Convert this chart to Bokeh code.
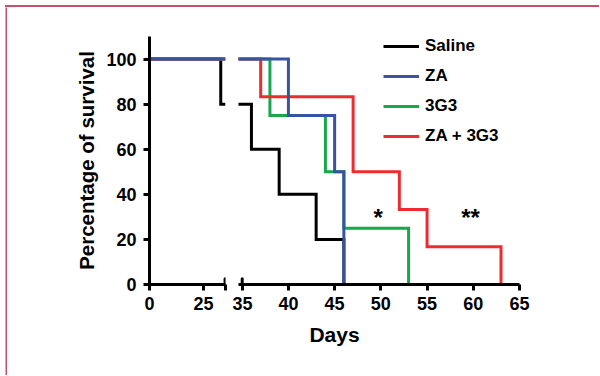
from math import pi
from bokeh.plotting import figure
from bokeh.layouts import row, column
from bokeh.models import (Legend, LegendItem, FixedTicker, Range1d,
                          ColumnDataSource, Div)
from bokeh.core.properties import value
from bokeh.embed import file_html
from bokeh.resources import INLINE

# ---- data ----
groups = ["Saline", "ZA", "3G3", "ZA + 3G3"]
saline_days = [0, 33, 36, 39, 43, 46]
saline_surv = [100, 80, 60, 40, 20, 0]
za_days = [0, 40, 45, 46]
za_surv = [100, 75, 50, 0]
g3_days = [0, 38, 44, 46, 53]
g3_surv = [100, 75, 50, 25, 0]
combo_days = [0, 37, 47, 52, 55, 63]
combo_surv = [100, 83.3, 50, 33.3, 16.7, 0]
colors = ["#000000", "#3953a4", "#16a84b", "#ee2b31"]

left_ticks = [0, 25]
right_ticks = [35, 40, 45, 50, 55, 60, 65]
y_ticks = [0, 20, 40, 60, 80, 100]
break_at = 35
left_end = 35.2
right_start = 34.6
x_end = 65
y_max = 110
star_days = [49.7, 59.7]
star_surv = [29.5, 29.5]
star_text = ["*", "**"]
x_title = ["Days"]
y_title = "Percentage of survival"

FONT = "Liberation Sans"
BORDER = "#c8506b"
series = [
    (saline_days, saline_surv, colors[0]),
    (za_days, za_surv, colors[1]),
    (g3_days, g3_surv, colors[2]),
    (combo_days, combo_surv, colors[3]),
]
draw_order = [0, 2, 3, 1]

FH = 248
TOP = 29
BOT = 34
DAYS_H = 57
LEFT_BORDER = 142
LFW = 76
RFW = 281


def style_axis(ax):
    ax.axis_line_width = 3
    ax.major_tick_line_width = 3
    ax.major_tick_out = 6
    ax.major_tick_in = 0
    ax.minor_tick_line_color = None
    ax.major_label_text_font = FONT
    ax.major_label_text_font_style = "bold"
    ax.major_label_text_font_size = "18px"
    ax.major_label_text_color = "black"
    ax.axis_line_color = "black"
    ax.major_tick_line_color = "black"


def left_part(d, s):
    """Portion of a step curve shown on the left (pre-break) segment."""
    dd = [x for x in d if x < break_at]
    ss = [y for x, y in zip(d, s) if x < break_at]
    return dd + [left_end], ss + [ss[-1]]


# ---- frame border (pink left/top lines) ----
top_bar = Div(text="", width=594, height=2, margin=(5, 0, 0, 5),
              styles={"background-color": BORDER})
left_bar = figure(frame_width=2, frame_height=TOP + FH + BOT + DAYS_H,
                  output_backend="svg", toolbar_location=None,
                  x_axis_type=None, y_axis_type=None,
                  min_border_left=5, min_border_top=0, min_border_right=0,
                  min_border_bottom=0, background_fill_color=BORDER)
left_bar.outline_line_color = None
left_bar.grid.visible = False

# ---- left segment ----
left = figure(frame_width=LFW, frame_height=FH, output_backend="svg",
              toolbar_location=None, x_range=Range1d(0, left_end),
              y_range=Range1d(0, y_max), min_border_left=LEFT_BORDER,
              min_border_right=7, min_border_top=TOP, min_border_bottom=BOT)
left.outline_line_color = None
left.grid.visible = False
style_axis(left.xaxis[0])
style_axis(left.yaxis[0])
left.xaxis[0].ticker = FixedTicker(ticks=left_ticks + [break_at])
left.xaxis[0].major_label_overrides = {break_at: ""}
left.yaxis[0].ticker = FixedTicker(ticks=y_ticks)
left.xaxis[0].major_label_standoff = 6
left.yaxis[0].major_label_standoff = 7
left.yaxis[0].axis_label = y_title
left.yaxis[0].axis_label_text_font = FONT
left.yaxis[0].axis_label_text_font_style = "bold"
left.yaxis[0].axis_label_text_font_size = "20.5px"
left.yaxis[0].axis_label_text_color = "black"
left.yaxis[0].axis_label_standoff = 5

for i in draw_order:
    d, s, c = series[i]
    ld, ls = left_part(d, s)
    left.step(ld, ls, mode="after", line_color=c, line_width=3,
              line_join="miter")

left.segment(x0=[break_at], y0=[0], x1=[break_at], y1=[2.6],
             line_width=3, line_color="black", line_cap="round")

# ---- right segment ----
right = figure(frame_width=RFW, frame_height=FH, output_backend="svg",
               toolbar_location=None, x_range=Range1d(right_start, x_end),
               y_range=Range1d(0, y_max), y_axis_type=None,
               min_border_left=6, min_border_right=80, min_border_top=TOP,
               min_border_bottom=BOT)
right.outline_line_color = None
right.grid.visible = False
style_axis(right.xaxis[0])
right.xaxis[0].ticker = FixedTicker(ticks=right_ticks)
right.xaxis[0].major_label_standoff = 6

renderers = {}
for i in draw_order:
    d, s, c = series[i]
    renderers[i] = right.step(d, s, mode="after", line_color=c,
                              line_width=3, line_join="miter")

right.segment(x0=[break_at], y0=[0], x1=[break_at], y1=[2.6],
              line_width=3, line_color="black", line_cap="round")

mark = right.scatter(x=[], y=[], marker="dash", angle=pi / 2, size=10,
                     line_color="black", line_width=3)

items = [LegendItem(label=groups[i], renderers=[renderers[i], mark])
         for i in range(4)]
legend = Legend(items=items, location=(145, FH - 110),
                glyph_width=36, glyph_height=20, label_height=20,
                spacing=10, padding=0, margin=0, label_standoff=6,
                border_line_color=None, background_fill_alpha=0,
                label_text_font=FONT, label_text_font_style="bold",
                label_text_font_size="17px", label_text_color="black")
right.add_layout(legend)

stars = ColumnDataSource(dict(x=star_days, y=star_surv, t=star_text))
right.text(x="x", y="y", text="t", source=stars, text_align="center",
           text_baseline="middle", text_font=value(FONT),
           text_font_style="bold", text_font_size="24px", text_color="black")

# ---- shared x-axis title, centred under both segments ----
days = figure(frame_width=370, frame_height=30, output_backend="svg",
              toolbar_location=None, x_axis_type=None, y_axis_type=None,
              x_range=Range1d(0, 1), y_range=Range1d(0, 1),
              min_border_left=LEFT_BORDER, min_border_right=0,
              min_border_top=1, min_border_bottom=DAYS_H - 31)
days.outline_line_color = None
days.grid.visible = False
days.text(x=[0.5], y=[0.5], text=x_title, text_align="center",
          text_baseline="middle", text_font=value(FONT),
          text_font_style="bold", text_font_size="21px", text_color="black")

layout = column(top_bar, row(left_bar, column(row(left, right), days)))

open("out.html", "w").write(file_html(layout, INLINE))
